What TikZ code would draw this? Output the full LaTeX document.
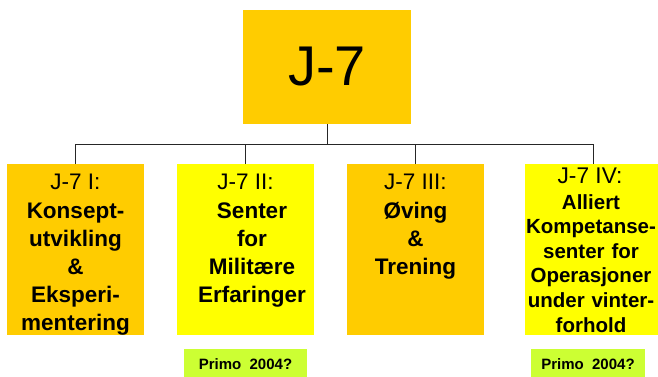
\documentclass[tikz,border=0pt]{standalone}
\usepackage{fontspec}
\setmainfont{Liberation Sans}

\definecolor{chartorange}{HTML}{FFCC00}
\definecolor{chartyellow}{HTML}{FFFF00}
\definecolor{chartgreen}{HTML}{CCFF33}

\tikzset{
  unit/.style={minimum width=137pt, minimum height=171pt, inner sep=0pt, outer sep=0pt},
  head/.style={anchor=base, inner sep=0pt, font=\fontsize{22.5}{28}\selectfont},
  body/.style={anchor=base, inner sep=0pt, text width=135pt, align=center,
               font=\bfseries\fontsize{22.5}{28}\selectfont},
  note/.style={fill=chartgreen, minimum height=30pt, inner sep=0pt,
               font=\bfseries\fontsize{15}{18}\selectfont},
  link/.style={line width=0.9pt, draw=black!85}
}

\begin{document}
\begin{tikzpicture}[x=1pt, y=-1pt]
\useasboundingbox (0,0) rectangle (658,376);
\clip (0,0) rectangle (658,376);

% -----------------------------
% Head of the section
% -----------------------------
\node[fill=chartorange, minimum width=168pt, minimum height=114pt, inner sep=0pt,
      font=\fontsize{56}{60}\selectfont] (j7) at (327,67) {J-7};

% -----------------------------
% The four branches
% -----------------------------
\node[unit, fill=chartorange] (jI)   at (75.5,249.5)  {};
\node[unit, fill=chartyellow] (jII)  at (245.5,249.5) {};
\node[unit, fill=chartorange] (jIII) at (415.5,249.5) {};
\node[unit, fill=chartyellow] (jIV)  at (593,249.5)   {};

% lines down to every branch
\foreach \b in {jI,jII,jIII,jIV}
  \draw[link] (j7.south) -- ++(0,20) -| (\b.north);

% titles and contents
\node[head] (hI) at ([yshift=-25pt]jI.north) {J-7 I:};
\node[body] (tI) at ([yshift=-54pt]jI.north)
  {Konsept-\\utvikling\\\&\\Eksperi-\\mentering};

\node[head] (hII) at ([yshift=-25pt]jII.north) {J-7 II:};
\node[body] (tII) at ([xshift=6.5pt,yshift=-54pt]jII.north)
  {Senter\\for\\Militære\\Erfaringer};

\node[head] (hIII) at ([yshift=-25pt]jIII.north) {J-7 III:};
\node[body] (tIII) at ([yshift=-54pt]jIII.north)
  {Øving\\\&\\Trening};

\node[head, font=\fontsize{22.7}{26}\selectfont] (hIV) at ([xshift=-3pt,yshift=-19pt]jIV.north) {J-7 IV:};
\node[body, font=\bfseries\fontsize{20.5}{24.6}\selectfont] (tIV) at ([xshift=-2pt,yshift=-45pt]jIV.north)
  {Alliert\\Kompetanse-\\senter for\\Operasjoner\\under vinter-\\forhold};

% -----------------------------
% Planned start
% -----------------------------
\node[note, minimum width=123pt] (pII) at (245.5,364) {Primo\ \ 2004?};
\node[note, minimum width=114pt] (pIV) at (588,364)   {Primo\ \ 2004?};

\end{tikzpicture}
\end{document}
